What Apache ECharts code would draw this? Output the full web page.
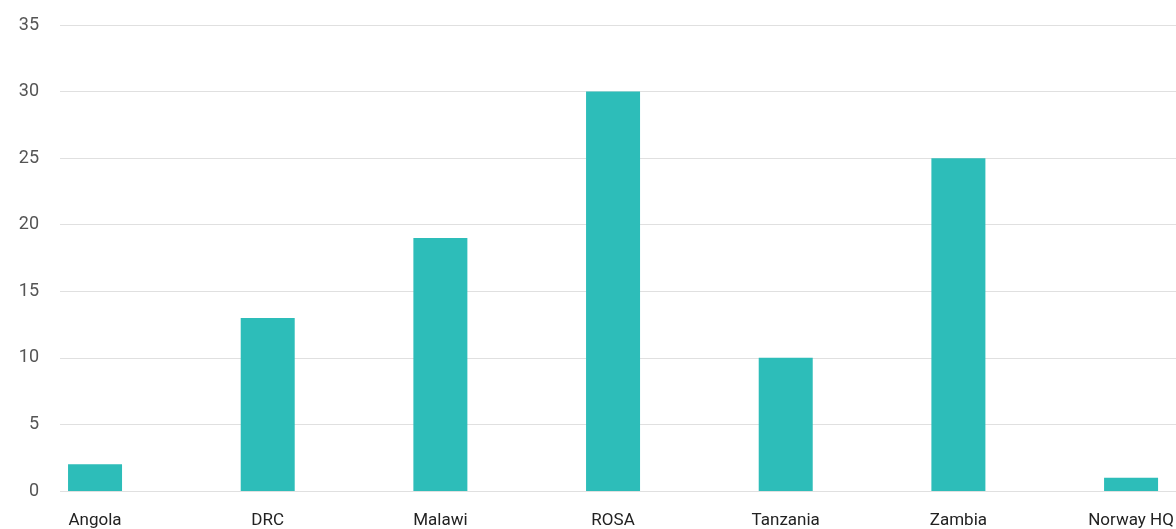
<!DOCTYPE html>
<html>
<head>
<meta charset="utf-8">
<script src="https://cdn.jsdelivr.net/npm/echarts@6/dist/echarts.min.js"></script>
<style>
  html, body { margin: 0; padding: 0; background: #fff; }
  #chart { width: 1176px; height: 529px; }
</style>
</head>
<body>
<div id="chart"></div>
<script>
const categories = ['Angola', 'DRC', 'Malawi', 'ROSA', 'Tanzania', 'Zambia', 'Norway HQ'];
const values = [2, 13, 19, 30, 10, 25, 1];
const yTicks = { min: 0, max: 35, interval: 5 };

const chart = echarts.init(document.getElementById('chart'));

// grid 0 carries the y axis + gridlines, grid 1 the bars (it runs past the right edge, like the original)
const option = {
    animation: false,
    grid: [
        { left: 60, right: 0, top: 25, height: 466, outerBoundsMode: 'none' },
        { left: 8.7, width: 1208.7, top: 25, height: 466, outerBoundsMode: 'none' }
    ],
    xAxis: [
        { gridIndex: 0, type: 'value', show: false },
        {
            gridIndex: 1,
            type: 'category',
            data: categories,
            axisLine: { show: false },
            axisTick: { show: false },
            axisLabel: {
                margin: 21,
                color: '#222',
                fontSize: 17,
                fontFamily: 'Roboto'
            }
        }
    ],
    yAxis: [
        {
            gridIndex: 0,
            type: 'value',
            min: yTicks.min,
            max: yTicks.max,
            interval: yTicks.interval,
            axisLine: { show: false },
            axisTick: { show: false },
            axisLabel: {
                margin: 21,
                color: '#555',
                fontSize: 18,
                fontFamily: 'Roboto'
            },
            splitLine: { lineStyle: { color: '#e0e0e0', width: 1 } }
        },
        {
            gridIndex: 1,
            type: 'value',
            min: yTicks.min,
            max: yTicks.max,
            interval: yTicks.interval,
            show: false,
            splitLine: { show: false }
        }
    ],
    series: [
        {
            type: 'bar',
            xAxisIndex: 1,
            yAxisIndex: 1,
            data: values,
            barWidth: 54,
            itemStyle: { color: '#2dbdb9' }
        }
    ]
};

chart.setOption(option);
</script>
</body>
</html>
